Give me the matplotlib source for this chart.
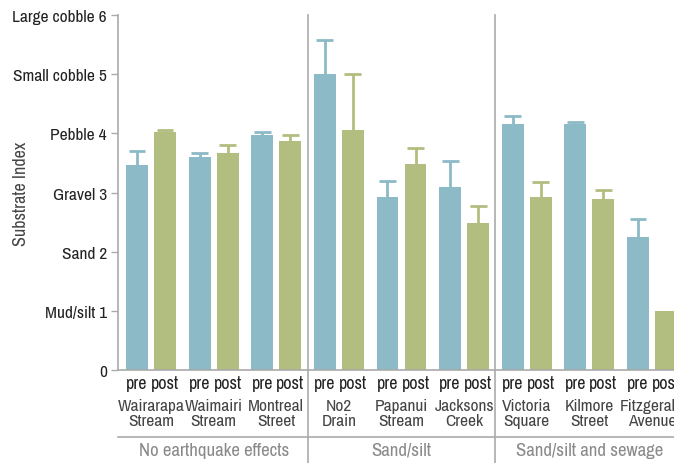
import matplotlib
matplotlib.use("Agg")
import matplotlib.pyplot as plt
import numpy as np

# substrate index per site, before and after the earthquakes
sites = ["Wairarapa\nStream", "Waimairi\nStream", "Montreal\nStreet",
         "No2\nDrain", "Papanui\nStream", "Jacksons\nCreek",
         "Victoria\nSquare", "Kilmore\nStreet", "Fitzgerald\nAvenue"]
pre = [3.46, 3.60, 3.97, 5.00, 2.92, 3.09, 4.16, 4.16, 2.25]
post = [4.02, 3.67, 3.87, 4.06, 3.49, 2.48, 2.92, 2.89, 1.00]
pre_err = [0.24, 0.06, 0.06, 0.58, 0.27, 0.44, 0.13, 0.04, 0.31]
post_err = [0.04, 0.14, 0.11, 0.95, 0.26, 0.30, 0.25, 0.16, 0.0]
groups = ["No earthquake effects", "Sand/silt", "Sand/silt and sewage"]
yticks = [0, 1, 2, 3, 4, 5, 6]
ylabels = ["0", "Mud/silt 1", "Sand 2", "Gravel 3", "Pebble 4",
           "Small cobble 5", "Large cobble 6"]

blue = "#8cbac6"
green = "#b2bd80"
grey = "#aaaaaa"
plt.rcParams["font.family"] = ["Archivo Narrow", "DejaVu Sans"]

fig = plt.figure(figsize=(6.74, 4.64), dpi=100)
ax = fig.add_axes([118 / 674, 93 / 464, 556 / 674, 355 / 464])

x = np.arange(len(sites))
w = 0.35
off = 0.224
cap = 0.135


def upper_err(xs, tops, errs, color):
    # one-sided error bars: stem from bar top up, cap at the end
    xs = np.asarray(xs)
    tops = np.asarray(tops)
    errs = np.asarray(errs)
    keep = errs > 0
    xs, tops, errs = xs[keep], tops[keep], errs[keep]
    ax.vlines(xs, tops, tops + errs, color=color, lw=2, zorder=3)
    ax.hlines(tops + errs, xs - cap, xs + cap, color=color, lw=2, zorder=3)


ax.bar(x - off, pre, w, color=blue, zorder=2)
ax.bar(x + off, post, w, color=green, zorder=2)
upper_err(x - off, pre, pre_err, blue)
upper_err(x + off, post, post_err, green)

ax.set_xlim(-0.527, 8.351)
ax.set_ylim(0, 6)
ax.set_yticks(yticks)
ax.set_yticklabels(ylabels, fontsize=12.5, color="#222222", fontweight=500)
ax.set_xticks([])
ax.tick_params(axis="y", length=5, width=1, color=grey, pad=3)
ax.spines["top"].set_visible(False)
ax.spines["right"].set_visible(False)
ax.spines["left"].set_color(grey)
ax.spines["bottom"].set_color(grey)
ax.spines["left"].set_linewidth(1.2)
ax.spines["bottom"].set_linewidth(1.2)
ax.set_ylabel("Substrate Index", fontsize=13, color="#444444")
ax.yaxis.set_label_coords(-0.16, 0.5)

tr = ax.get_xaxis_transform()


def fy(px):
    # pixel row -> axes fraction
    return (371 - px) / 355


for i, s in enumerate(sites):
    ax.text(i - off, fy(384), "pre", transform=tr, ha="center", va="center",
            fontsize=13, color="#222222", fontweight=500, clip_on=False)
    ax.text(i + off, fy(384), "post", transform=tr, ha="center", va="center",
            fontsize=13, color="#222222", fontweight=500, clip_on=False)
    ax.text(i, fy(414), s, transform=tr, ha="center", va="center",
            fontsize=12.5, color="#444444", linespacing=0.95, clip_on=False)

for gx, g in zip([1, 4, 7], groups):
    ax.text(gx, fy(451), g, transform=tr, ha="center", va="center",
            fontsize=13.5, color="#8a8a8a", clip_on=False)

# group separators
ax.plot([-0.527, 9.5], [fy(438), fy(438)], transform=tr, color=grey,
        lw=1.2, clip_on=False)
for d in [2.5, 5.5]:
    ax.plot([d, d], [1.0, fy(470)], transform=tr, color=grey, lw=1.2,
            clip_on=False)

fig.savefig("out.png", dpi=100)
